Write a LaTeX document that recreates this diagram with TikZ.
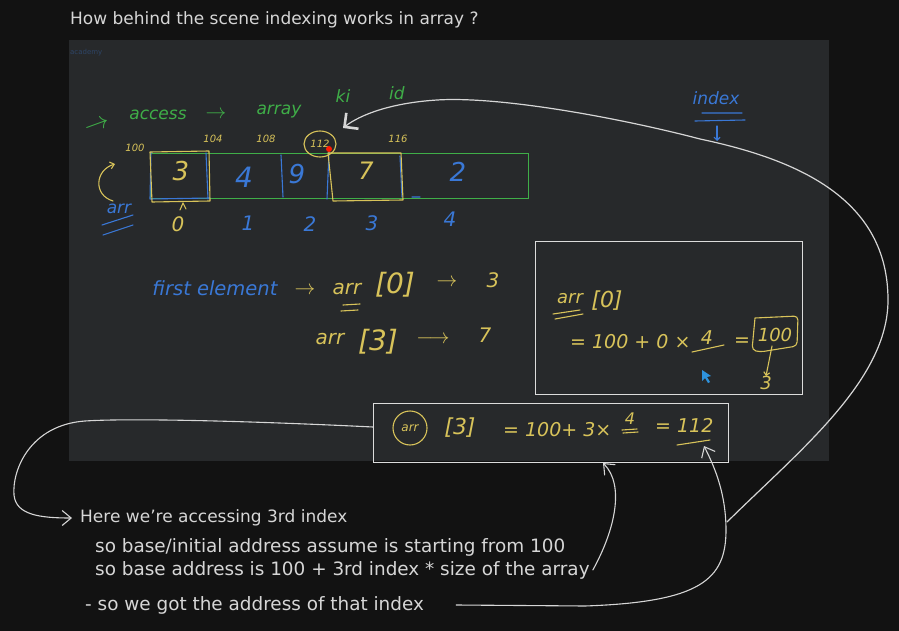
\documentclass[tikz,border=0pt]{standalone}
\usepackage{fontspec}
\setmainfont{DejaVu Sans}
\usetikzlibrary{arrows.meta}

\definecolor{pagebg}{HTML}{121212}
\definecolor{shotbg}{HTML}{27292B}
\definecolor{chalk}{HTML}{D6D6D6}
\definecolor{penyellow}{HTML}{D8C35A}
\definecolor{pengreen}{HTML}{3FAE48}
\definecolor{penblue}{HTML}{3A78D6}

\tikzset{
  note/.style={text=chalk, anchor=west, inner sep=0pt, font=\fontsize{17}{20}\selectfont},
  wide note/.style={note, font=\fontsize{18.4}{22}\selectfont},
  ink/.style={inner sep=0pt, font=\fontsize{20}{24}\selectfont\itshape},
  yink/.style={ink, text=penyellow},
  bink/.style={ink, text=penblue},
  gink/.style={ink, text=pengreen, font=\fontsize{17}{20}\selectfont\itshape},
  addr/.style={text=penyellow, inner sep=0pt, font=\fontsize{10}{12}\selectfont\itshape},
  pen/.style={line width=1.1pt, line cap=round, line join=round},
  frame/.style={draw=chalk!85, line width=1.3pt, inner sep=0pt},
  chalk arrow/.style={draw=chalk, line width=1.1pt, line cap=round, -{Straight Barb[length=9pt,width=15pt]}},
}

\begin{document}
\begin{tikzpicture}[x=1pt, y=-1pt]
  \useasboundingbox[fill=pagebg] (0,0) rectangle (899,631);
  \fill[shotbg] (69,40) rectangle (829,461);
  \node[anchor=west, inner sep=0pt, text=penblue!35!shotbg, font=\fontsize{7}{8}\selectfont] (mark) at (70,53) {academy};

  \node[note] (title) at (70,20) {How behind the scene indexing works in array ?};

  % heading scribble
  \node[gink, rotate=20, font=\fontsize{24}{28}\selectfont] (gA) at (98,126) {$\rightarrow$};
  \node[gink] (gB) at (158,115) {access};
  \node[gink, font=\fontsize{22}{26}\selectfont] (gC) at (216,115) {$\rightarrow$};
  \node[gink] (gD) at (279,112) {array};
  \node[gink] (gE) at (343,96) {ki};
  \node[gink] (gF) at (397,93) {id};

  % the array on the board
  \draw[pengreen, line width=0.9pt] (150,153) rectangle (528,198);
  \draw[penblue, pen] (151,152) -- (150,199) -- (210,198);
  \draw[penblue, pen] (206,153) -- (208,199);
  \draw[penblue, pen] (281,155) -- (283,197);
  \draw[penblue, pen] (329,152) -- (327,199);
  \draw[penblue, pen] (400,156) -- (402,197) (412,197) -- (420,197);
  \draw[penyellow, pen] (150,152) -- (209,151) -- (210,201) -- (152,202) -- cycle;
  \draw[penyellow, pen] (328,153) -- (401,153) -- (403,200) -- (333,201) -- cycle;

  \node[yink, font=\fontsize{26}{30}\selectfont\itshape] (v0) at (181,171) {3};
  \node[bink, font=\fontsize{28}{32}\selectfont\itshape] (v1) at (244,177) {4};
  \node[bink, font=\fontsize{26}{30}\selectfont\itshape] (v2) at (297,174) {9};
  \node[yink, font=\fontsize{24}{28}\selectfont\itshape] (v3) at (366,171) {7};
  \node[bink, font=\fontsize{26}{30}\selectfont\itshape] (v4) at (458,172) {2};

  \node[yink] (i0) at (178,224) {0};
  \node[bink] (i1) at (248,223) {1};
  \node[bink] (i2) at (310,224) {2};
  \node[bink] (i3) at (372,223) {3};
  \node[bink] (i4) at (450,219) {4};

  \node[addr] (a0) at (135,148) {100};
  \node[addr] (a1) at (213,139) {104};
  \node[addr] (a2) at (266,139) {108};
  \node[addr] (a3) at (320,144) {112};
  \node[addr] (a4) at (398,139) {116};
  \draw[penyellow, pen] (a3.center) ellipse [x radius=16, y radius=13];
  \fill[red!80!orange] (329,149) circle (3);
  \draw[penyellow, pen] (180,210) -- (183,203) -- (186,209);

  % arr label at left
  \node[bink, font=\fontsize{17}{20}\selectfont\itshape] (arrL) at (119,209) {arr};
  \draw[penblue, pen] (102,225) -- (133,215) (103,235) -- (133,225);
  \draw[penyellow, pen, -{Straight Barb[length=4pt,width=7pt]}] (113,201) .. controls (93,195) and (95,170) .. (115,164);

  % index note
  \node[bink, font=\fontsize{17}{20}\selectfont\itshape] (idx) at (716,98) {index};
  \draw[penblue, pen] (702,113) -- (742,113) (695,121) -- (745,120);
  \draw[penblue, pen, -{Straight Barb[length=3pt,width=6pt]}] (717,126) -- (717,141);

  % first element lines
  \node[bink, font=\fontsize{19.5}{23}\selectfont\itshape] (first) at (215,288) {first element};
  \node[yink] (fa1) at (305,291) {$\rightarrow$};
  \node[yink] (fa2) at (347,289) {arr};
  \draw[penyellow, pen] (343,305) -- (360,304) (341,311) -- (358,310);
  \node[yink, font=\fontsize{28}{32}\selectfont\itshape] (fa3) at (395,285) {[0]};
  \node[yink] (fa4) at (447,283) {$\rightarrow$};
  \node[yink] (fa5) at (493,280) {3};
  \node[yink] (fb1) at (330,339) {arr};
  \node[yink, font=\fontsize{28}{32}\selectfont\itshape] (fb2) at (378,342) {[3]};
  \node[yink] (fb3) at (433,340) {$\longrightarrow$};
  \node[yink] (fb4) at (485,335) {7};

  % first worked example
  \node[frame, minimum width=267pt, minimum height=153pt, anchor=north west] (calcA) at (535,241) {};
  \node[yink, font=\fontsize{18}{22}\selectfont\itshape] (cA1) at (570,299) {arr};
  \draw[penyellow, pen] (553,314) -- (580,310) (555,319) -- (583,314);
  \node[yink, font=\fontsize{22}{26}\selectfont\itshape] (cA2) at (607,301) {[0]};
  \node[yink, anchor=west, font=\fontsize{19}{22}\selectfont\itshape] (cA3) at (570,342) {= 100 + 0 ×};
  \node[yink, font=\fontsize{19}{22}\selectfont\itshape] (cA4) at (707,338) {4};
  \draw[penyellow, pen] (692,352) -- (724,345);
  \node[yink, font=\fontsize{19}{22}\selectfont\itshape] (cA5) at (742,342) {=};
  \node[yink, font=\fontsize{18}{22}\selectfont\itshape] (cA6) at (775,335) {100};
  \draw[penyellow, pen, rounded corners=4pt] (755,318) -- (798,316) -- (797,346) -- (760,352) -- (752,350) -- (755,318);
  \node[yink, font=\fontsize{18}{22}\selectfont\itshape] (cA7) at (766,383) {3};
  \draw[penyellow, pen, -{Straight Barb[length=3pt,width=6pt]}] (cA6.south) ++(-3,4) -- (cA7.north);

  % second worked example
  \node[frame, minimum width=355pt, minimum height=59pt, anchor=north west] (calcB) at (373,403) {};
  \node[yink, font=\fontsize{12}{14}\selectfont\itshape] (cB1) at (410,428) {arr};
  \draw[penyellow, pen] (cB1.center) ellipse [x radius=17, y radius=17];
  \node[yink, font=\fontsize{22}{26}\selectfont\itshape] (cB2) at (460,428) {[3]};
  \node[yink, anchor=west, font=\fontsize{19}{22}\selectfont\itshape] (cB3) at (503,430) {= 100+ 3×};
  \node[yink, font=\fontsize{16}{19}\selectfont\itshape] (cB4) at (630,419) {4};
  \draw[penyellow, pen] (622,430) -- (637,429) (623,433) -- (638,432);
  \node[yink, anchor=west, font=\fontsize{19}{22}\selectfont\itshape] (cB5) at (655,425) {= 112};
  \draw[penyellow, pen] (677,445) -- (710,440);

  % cursor
  \fill[penblue!80!cyan] (702,370) -- (702,381) -- (705,378) -- (708,383) -- (710,382) -- (707,377) -- (711,376) -- cycle;

  % notes below
  \node[note] (here) at (80,518) {Here we're accessing 3rd index};
  \node[wide note] (baseA) at (95,547) {so base/initial address assume is starting from 100};
  \node[wide note] (baseB) at (95,570) {so base address is 100 + 3rd index * size of the array};
  \node[wide note] (gotit) at (85,605) {- so we got the address of that index};

  % connectors
  \coordinate (leftout) at (373,427);
  \coordinate (hitA) at (603,463);
  \coordinate (hitB) at (704,446);
  \coordinate (bigtail) at (727,522);
  \coordinate (bighead) at (343,128);

  \draw[chalk arrow] (leftout) .. controls (250,421) and (130,418) .. (85,421) .. controls (30,425) and (12,470) .. (14,495) .. controls (16,515) and (40,518) .. ([xshift=-8pt]here.west);
  \draw[chalk arrow] ([xshift=3pt]baseB.east) .. controls (615,530) and (625,485) .. (hitA);
  \draw[chalk arrow] ([xshift=32pt]gotit.east) -- (585,606) .. controls (700,602) and (726,580) .. (726,530) .. controls (726,490) and (712,462) .. (hitB);
  \draw[chalk, line width=1.2pt, line cap=round, -{Straight Barb[length=10pt,width=20pt,line width=2.6pt]}] (bigtail) .. controls (800,450) and (888,380) .. (888,300) .. controls (888,200) and (800,160) .. (700,139) .. controls (620,118) and (500,96) .. (437,100) .. controls (390,103) and (360,115) .. (bighead);
\end{tikzpicture}
\end{document}
